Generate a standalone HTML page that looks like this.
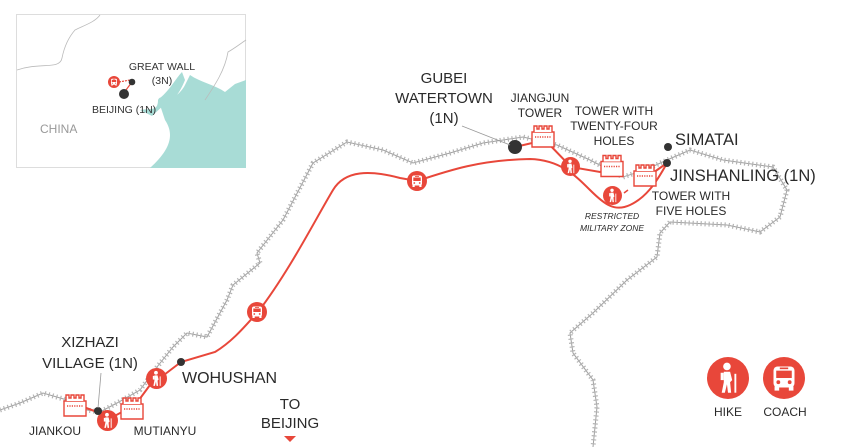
<!DOCTYPE html>
<html><head><meta charset="utf-8"><style>
html,body{margin:0;padding:0;background:#fff;}
svg{display:block;font-family:"Liberation Sans",sans-serif;}
</style></head><body>
<svg width="842" height="447" viewBox="0 0 842 447" xmlns="http://www.w3.org/2000/svg">
<defs>
<symbol id="tw" viewBox="0 0 24 24">
<path d="M1 8 V23 H23 V8 Z" fill="#fff" stroke="#e8473a" stroke-width="1.4"/>
<path d="M3 8 V2 H6 V5 H8 V2 H11 V5 H13 V2 H16 V5 H18 V2 H21 V8" fill="#fff" stroke="#e8473a" stroke-width="1.4"/>
<path d="M4 13 H20" stroke="#e8473a" stroke-width="1.6" stroke-dasharray="1.2 1.2"/>
</symbol>
<symbol id="hk" viewBox="0 0 20 20">
<circle cx="10" cy="10" r="10" fill="#e8473a"/>
<circle cx="9.5" cy="4.5" r="1.8" fill="#fff"/>
<path d="M8 7 H11 L12 11 L11 12 L11.5 17 H10 L9.5 13 L8.5 17 H7 L8 12 Z" fill="#fff"/>
<path d="M6.5 7.5 H8 V11 H6.5 Z" fill="#fff"/>
<path d="M13.5 8 V17" stroke="#fff" stroke-width="0.9"/>
</symbol>
<symbol id="bs" viewBox="0 0 20 20">
<circle cx="10" cy="10" r="10" fill="#e8473a"/>
<rect x="5" y="4.5" width="10" height="10" rx="2" fill="#fff"/>
<rect x="6.3" y="6.5" width="7.4" height="3.5" fill="#e8473a"/>
<rect x="8" y="5" width="4" height="0.8" fill="#e8473a"/>
<circle cx="7.3" cy="12" r="0.9" fill="#e8473a"/>
<circle cx="12.7" cy="12" r="0.9" fill="#e8473a"/>
<rect x="5.5" y="14" width="2.2" height="2" fill="#fff"/>
<rect x="12.3" y="14" width="2.2" height="2" fill="#fff"/>
</symbol>
</defs>

<!-- inset -->
<rect x="16.5" y="14.5" width="229" height="153" fill="#fff" stroke="#ddd"/>
<path d="M150 168 C170 150 175 135 165 120 L160 105 C170 100 180 95 185 85 L190 75 C200 82 215 85 225 92 L235 84 L246 80 V168 Z" fill="#a8dcd6"/>
<path d="M165 105 C175 100 180 92 185 80 L182 72 C176 78 170 90 160 98 Z" fill="#a8dcd6"/>
<path d="M140 110 C150 108 158 112 158 100 C160 95 165 98 165 104 L152 116 Z" fill="#a8dcd6"/>
<path d="M17 70 C40 62 60 70 62 58 C64 48 68 38 75 30 C85 25 95 22 100 15" fill="none" stroke="#bbb" stroke-width="0.8"/>
<path d="M205 100 C215 85 225 70 228 52 C235 48 240 44 246 40" fill="none" stroke="#bbb" stroke-width="0.8"/>
<path d="M119 82 L130 80" stroke="#e8473a" stroke-width="1.2" stroke-dasharray="2 1"/>
<path d="M126 90 L132 82" stroke="#e8473a" stroke-width="1.2"/>
<use href="#bs" x="108" y="76" width="12" height="12"/>
<circle cx="132" cy="82" r="3.3" fill="#333"/>
<circle cx="124" cy="94" r="5" fill="#333"/>
<text x="162" y="70" font-size="10.5" fill="#333" text-anchor="middle">GREAT WALL</text>
<text x="162" y="84" font-size="10.5" fill="#333" text-anchor="middle">(3N)</text>
<text x="92" y="113" font-size="10.5" fill="#333">BEIJING (1N)</text>
<text x="40" y="133" font-size="12" fill="#999">CHINA</text>

<!-- great wall -->
<g fill="none">
<path d="M0 410 L20 403 L43 393 L67 400 L87 410 L100 412 L117 403 L140 390 L157 367 L173 347 L187 333 L207 337 L227 300 L233 285 L260 263 L257 253 L283 220 L313 163 L347 142 L383 150 L413 163 L450 153 L483 143 L523 137 L557 145 L590 160 L623 177 L645 170 L667 160 L690 150 L723 160 L773 167 L787 190 L780 217 L760 232 L727 225 L670 222 L660 233 L657 257 L627 280 L593 313 L570 333 L573 353 L593 380 L597 407 L593 447" stroke="#a0a0a0" stroke-width="1"/>
<path d="M0 410 L20 403 L43 393 L67 400 L87 410 L100 412 L117 403 L140 390 L157 367 L173 347 L187 333 L207 337 L227 300 L233 285 L260 263 L257 253 L283 220 L313 163 L347 142 L383 150 L413 163 L450 153 L483 143 L523 137 L557 145 L590 160 L623 177 L645 170 L667 160 L690 150 L723 160 L773 167 L787 190 L780 217 L760 232 L727 225 L670 222 L660 233 L657 257 L627 280 L593 313 L570 333 L573 353 L593 380 L597 407 L593 447" stroke="#b4b4b4" stroke-width="5" stroke-dasharray="1.2 2.8"/>
</g>

<!-- route -->
<g fill="none" stroke="#e8473a" stroke-width="2">
<path d="M78 405 L100 413 L107 420 L122 412 L133 408 L150 385 L160 378 L181 362 L215 352 C235 340 250 320 258 312 C290 270 315 220 333 190 C345 170 370 170 400 178 L417 181 C450 170 480 160 530 159 C560 160 575 175 590 190 C605 205 615 212 630 205 C645 198 655 185 667 163"/>
<path d="M515 147 L545 140 L571 167 L600 172 L612 168"/>
<path d="M650 175 L667 163"/>
</g>
<path d="M608 190 L611 193 M624 193 L628 190" stroke="#e8473a" stroke-width="1.5"/>

<!-- towers -->
<use href="#tw" x="63" y="393" width="24" height="24"/>
<use href="#tw" x="120" y="396" width="24" height="24"/>
<use href="#tw" x="531" y="124" width="24" height="24"/>
<use href="#tw" x="600" y="152" width="24" height="27"/>
<use href="#tw" x="633" y="163" width="24" height="24"/>

<!-- hikes / buses -->
<use href="#hk" x="97" y="410" width="21" height="21"/>
<use href="#hk" x="146" y="368" width="21" height="21"/>
<use href="#hk" x="561" y="157" width="19" height="19"/>
<use href="#hk" x="603" y="186" width="19" height="19"/>
<use href="#bs" x="247" y="302" width="20" height="20"/>
<use href="#bs" x="407" y="171" width="20" height="20"/>
<use href="#hk" x="707" y="357" width="42" height="42"/>
<use href="#bs" x="763" y="357" width="42" height="42"/>

<!-- dots -->
<circle cx="98" cy="411" r="4" fill="#333"/>
<circle cx="181" cy="362" r="4" fill="#333"/>
<circle cx="515" cy="147" r="7" fill="#333"/>
<circle cx="668" cy="147" r="4" fill="#333"/>
<circle cx="667" cy="163" r="4" fill="#333"/>
<path d="M101 373 L98 408" stroke="#999" stroke-width="0.8"/>
<path d="M462 126 L510 145" stroke="#999" stroke-width="0.8"/>

<!-- labels -->
<g fill="#2a2a2a">
<g font-size="15" text-anchor="middle">
<text x="444" y="83">GUBEI</text>
<text x="444" y="103">WATERTOWN</text>
<text x="444" y="123">(1N)</text>
<text x="90" y="347">XIZHAZI</text>
<text x="90" y="368">VILLAGE (1N)</text>
<text x="290" y="409">TO</text>
<text x="290" y="428">BEIJING</text>
</g>
<text x="182" y="383" font-size="16">WOHUSHAN</text>
<text x="675" y="145" font-size="16.5">SIMATAI</text>
<text x="670" y="181" font-size="16.5">JINSHANLING (1N)</text>
<g font-size="12" text-anchor="middle">
<text x="540" y="102">JIANGJUN</text>
<text x="540" y="117">TOWER</text>
<text x="614" y="115">TOWER WITH</text>
<text x="614" y="130">TWENTY-FOUR</text>
<text x="614" y="145">HOLES</text>
<text x="691" y="200">TOWER WITH</text>
<text x="691" y="215">FIVE HOLES</text>
<text x="55" y="435">JIANKOU</text>
<text x="165" y="435">MUTIANYU</text>
<text x="728" y="416">HIKE</text>
<text x="785" y="416">COACH</text>
</g>
<g font-size="8.5" font-style="italic" text-anchor="middle">
<text x="612" y="219">RESTRICTED</text>
<text x="612" y="231">MILITARY ZONE</text>
</g>
</g>
<path d="M284 436 L296 436 L290 442 Z" fill="#e8473a"/>
</svg>
</body></html>
